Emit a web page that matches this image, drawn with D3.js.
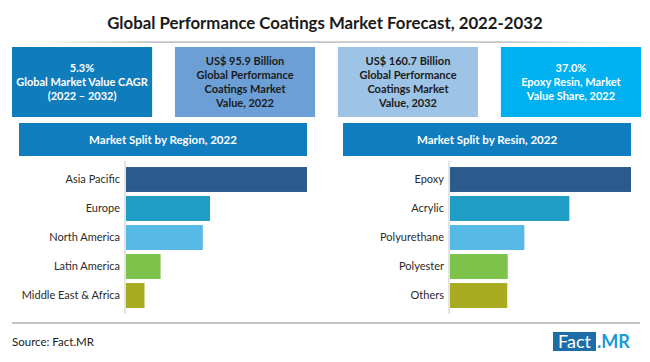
<!DOCTYPE html>
<html><head><meta charset="utf-8">
<script src="https://cdn.jsdelivr.net/npm/d3@7"></script>
<style>body{margin:0;background:#fff}svg{display:block}</style>
</head><body><svg id="c" width="650" height="362"></svg>
<script>
const title = "Global Performance Coatings Market Forecast, 2022-2032";
const kpiLines = [
  ["5.3%", "Global Market Value CAGR", "(2022 \u2013 2032)"],
  ["US$ 95.9 Billion", "Global Performance", "Coatings Market", "Value, 2022"],
  ["US$ 160.7 Billion", "Global Performance", "Coatings Market", "Value, 2032"],
  ["37.0%", "Epoxy Resin, Market", "Value Share, 2022"]
];
const kpiColors = ["#0f7dbb", "#6b9fd5", "#9dc3e6", "#00b0ef"];
const regionTitle = "Market Split by Region, 2022";
const regions = ["Asia Pacific", "Europe", "North America", "Latin America", "Middle East & Africa"];
const regionValues = [45.0, 20.9, 19.1, 8.6, 4.6];
const resinTitle = "Market Split by Resin, 2022";
const resins = ["Epoxy", "Acrylic", "Polyurethane", "Polyester", "Others"];
const resinValues = [37.0, 24.4, 15.2, 11.8, 11.7];
const barColors = ["#2b5b8d", "#1f9dc5", "#57b9e5", "#7dc34b", "#a9ac21"];

const svg = d3.select("#c");
const font = "Lato, 'Open Sans', sans-serif";

// title
svg.append("text").attr("x", 325).attr("y", 29).attr("text-anchor", "middle")
  .attr("font-family", font).attr("font-weight", 700).attr("font-size", 16.8)
  .attr("fill", "#1a1a1a").text(title);
const defs = svg.append("defs");
const g1 = defs.append("linearGradient").attr("id", "tl");
g1.append("stop").attr("offset", "0").attr("stop-color", "#fff");
g1.append("stop").attr("offset", "0.2").attr("stop-color", "#aaa");
g1.append("stop").attr("offset", "0.8").attr("stop-color", "#aaa");
g1.append("stop").attr("offset", "1").attr("stop-color", "#fff");
svg.append("rect").attr("x", 30).attr("y", 41.5).attr("width", 590).attr("height", 1.2).attr("fill", "url(#tl)");

// KPI boxes
const boxX = d3.scaleBand().domain(d3.range(4)).range([12, 641]).paddingInner(0.14);
kpiLines.forEach((lines, i) => {
  const x0 = boxX(i), w = boxX.bandwidth();
  svg.append("rect").attr("x", x0).attr("y", 47).attr("width", w).attr("height", 70).attr("fill", kpiColors[i]);
  const fill = (i === 1 || i === 2) ? "#1b1b1b" : "#ffffff";
  const lh = 14;
  const startY = 82 - (lines.length - 1) * lh / 2 + 4;
  lines.forEach((t, j) => {
    svg.append("text").attr("x", x0 + w / 2).attr("y", startY + j * lh)
      .attr("text-anchor", "middle").attr("font-family", font).attr("font-weight", 700)
      .attr("font-size", 11).attr("fill", fill).text(t);
  });
});

function panel(px0, px1, axisX, endX, headerText, cats, vals) {
  svg.append("rect").attr("x", px0).attr("y", 123).attr("width", px1 - px0).attr("height", 33).attr("fill", "#0f7dbe");
  svg.append("text").attr("x", (px0 + px1) / 2).attr("y", 143.5).attr("text-anchor", "middle")
    .attr("font-family", font).attr("font-weight", 700).attr("font-size", 11.5).attr("fill", "#fff").text(headerText);
  const y = d3.scaleBand().domain(cats).range([165, 310]).paddingInner(0.14).paddingOuter(0.07);
  const x = d3.scaleLinear().domain([0, vals[0]]).range([axisX + 1, endX]);
  svg.selectAll(null).data(cats).enter().append("rect")
    .attr("x", x(0)).attr("y", d => y(d)).attr("height", y.bandwidth())
    .attr("width", (d, i) => x(vals[i]) - x(0)).attr("fill", (d, i) => barColors[i]);
  const ax = svg.append("g").attr("transform", `translate(${axisX},0)`)
    .call(d3.axisLeft(y).tickSize(0).tickPadding(5));
  ax.select(".domain").attr("stroke", "#c8c8c8").attr("d", "M0,161V314");
  ax.selectAll("text").attr("font-family", font).attr("font-size", 11).attr("fill", "#2a2a2a");
}
panel(19, 307, 125, 307, regionTitle, regions, regionValues);
panel(343, 631, 449, 631, resinTitle, resins, resinValues);

// footer
svg.append("line").attr("x1", 12).attr("x2", 640).attr("y1", 323).attr("y2", 323).attr("stroke", "#8a8a8a").attr("stroke-width", 1);
svg.append("text").attr("x", 12).attr("y", 346).attr("font-family", font).attr("font-size", 11.5).attr("fill", "#1a1a1a").text("Source: Fact.MR");
svg.append("rect").attr("x", 553).attr("y", 332).attr("width", 43).attr("height", 19).attr("fill", "#1c6ea8");
svg.append("text").attr("x", 574.5).attr("y", 347.5).attr("text-anchor", "middle").attr("font-family", font)
  .attr("font-size", 18).attr("fill", "#fff").text("Fact");
svg.append("text").attr("x", 597).attr("y", 347.5).attr("font-family", font).attr("font-weight", 700)
  .attr("font-size", 18).attr("fill", "#1a9ad6").text(".MR");
</script></body></html>
